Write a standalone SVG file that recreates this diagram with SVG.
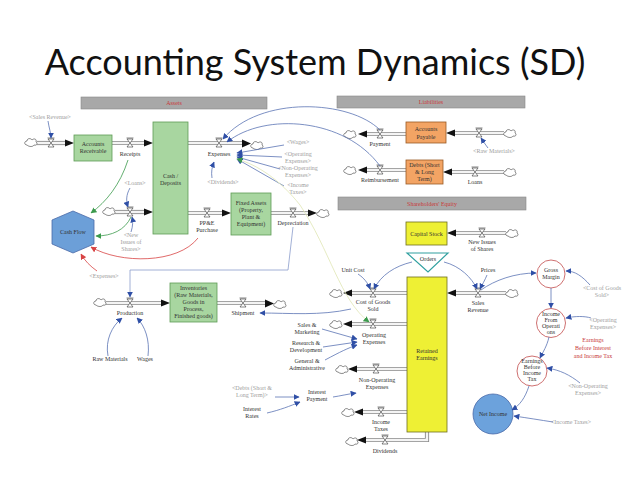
<svg xmlns="http://www.w3.org/2000/svg" width="638" height="479" viewBox="0 0 638 479">
<style>
.t{font-family:"Liberation Serif",serif;font-size:6px;fill:#333;text-anchor:middle}
.s{font-family:"Liberation Serif",serif;font-size:6px;fill:#a0a0a0;text-anchor:middle}
.h{font-family:"Liberation Serif",serif;font-size:6px;fill:#c83a3a;text-anchor:middle}
.bar{fill:#a8a8a8;stroke:#888;stroke-width:.6}
.gb{fill:#a8d6a0;stroke:#5e9c55;stroke-width:.8}
.ob{fill:#f3a464;stroke:#9a5a24;stroke-width:.8}
.yb{fill:#eef034;stroke:#6e6e1e;stroke-width:.8}
.circ{fill:#fff;stroke:#c86060;stroke-width:.9}
.po{fill:none;stroke:#8a8a8a;stroke-width:4.2}
.pi{fill:none;stroke:#f4f4f4;stroke-width:2.4}
.ah{fill:#111}
.cb{fill:none;stroke:#5a74b4;stroke-width:.8;marker-end:url(#mb)}
.cg{fill:none;stroke:#3c9a4c;stroke-width:.8;marker-end:url(#mg)}
.cr{fill:none;stroke:#d84444;stroke-width:.8;marker-end:url(#mr)}
.cp{fill:none;stroke:#e3e9bc;stroke-width:.9;marker-end:url(#mg);marker-start:url(#mgs)}
.cl{fill:none;stroke:#8a9ccc;stroke-width:.8;marker-end:url(#mb)}
</style>
<defs>
<marker id="mb" viewBox="0 0 10 10" refX="9" refY="5" markerWidth="6" markerHeight="6" markerUnits="userSpaceOnUse" orient="auto"><path d="M0,0 L10,5 L0,10 Z" fill="#2f4fa6"/></marker>
<marker id="mg" viewBox="0 0 10 10" refX="9" refY="5" markerWidth="6" markerHeight="6" markerUnits="userSpaceOnUse" orient="auto"><path d="M0,0 L10,5 L0,10 Z" fill="#3c9a4c"/></marker>
<marker id="mgs" viewBox="0 0 10 10" refX="1" refY="5" markerWidth="6" markerHeight="6" markerUnits="userSpaceOnUse" orient="auto"><path d="M10,0 L0,5 L10,10 Z" fill="#3c9a4c"/></marker>
<marker id="mr" viewBox="0 0 10 10" refX="9" refY="5" markerWidth="6" markerHeight="6" markerUnits="userSpaceOnUse" orient="auto"><path d="M0,0 L10,5 L0,10 Z" fill="#d84444"/></marker>
<g id="cloud"><path d="M-4,3 C-7,3 -7,-1 -4,-1 C-4,-4 0,-4 1,-2 C3,-4 6,-3 5,0 C7,1 6,4 3,3 C2,5 -2,5 -4,3 Z" fill="#fff" stroke="#555" stroke-width=".7"/></g>
<g id="valve"><path d="M-3,-4 H3 L-3,4 H3 Z" fill="#fff" stroke="#333" stroke-width=".6"/><path d="M-3.5,-5 H3.5" stroke="#333" stroke-width=".6"/></g>
</defs>
<rect width="638" height="479" fill="#fff"/>
<text x="315" y="75" font-family="Lato, 'Open Sans', sans-serif" font-size="36" fill="#111" text-anchor="middle">Accounting System Dynamics (SD)</text>

<g id="headers">
<rect class="bar" x="81" y="97" width="186" height="12"/><text class="h" x="174" y="105">Assets</text>
<rect class="bar" x="337" y="96" width="188" height="12"/><text class="h" x="431" y="104">Liabilities</text>
<rect class="bar" x="338" y="197" width="188" height="13"/><text class="h" x="432" y="205.5">Shareholders' Equity</text>
</g>

<g id="flows">
<path class="po" d="M37,143 H66"/><path class="pi" d="M37,143 H66"/><polygon class="ah" points="65,139.5 74,143 65,146.5"/>
<path class="po" d="M112,143 H145"/><path class="pi" d="M112,143 H145"/><polygon class="ah" points="144,139.5 153,143 144,146.5"/>
<path class="po" d="M188,143 H243"/><path class="pi" d="M188,143 H243"/><polygon class="ah" points="242,139.5 251,143.5 242,147.5"/>
<path class="po" d="M115,212 H145"/><path class="pi" d="M115,212 H145"/><polygon class="ah" points="144,208.5 153,212 144,215.5"/>
<path class="po" d="M188,213 H223"/><path class="pi" d="M188,213 H223"/><polygon class="ah" points="222,209.5 231,213 222,216.5"/>
<path class="po" d="M271,213 H309"/><path class="pi" d="M271,213 H309"/><polygon class="ah" points="308,209.5 317,213 308,216.5"/>
<path class="po" d="M106,303 H162"/><path class="pi" d="M106,303 H162"/><polygon class="ah" points="161,299.5 170,303 161,306.5"/>
<path class="po" d="M217,303 H266"/><path class="pi" d="M217,303 H266"/><polygon class="ah" points="265,299.5 274,303.5 265,307.5"/>
<path class="po" d="M406,134 H366"/><path class="pi" d="M406,134 H366"/><polygon class="ah" points="367,130.5 358,134 367,137.5"/>
<path class="po" d="M504,133 H454"/><path class="pi" d="M504,133 H454"/><polygon class="ah" points="455,129.5 446,133 455,136.5"/>
<path class="po" d="M406,170 H366"/><path class="pi" d="M406,170 H366"/><polygon class="ah" points="367,166.5 358,170 367,173.5"/>
<path class="po" d="M504,172 H451"/><path class="pi" d="M504,172 H451"/><polygon class="ah" points="452,168.5 443,172 452,175.5"/>
<path class="po" d="M506,233 H455"/><path class="pi" d="M506,233 H455"/><polygon class="ah" points="456,229.5 447,233 456,236.5"/>
<path class="po" d="M506,293 H455"/><path class="pi" d="M506,293 H455"/><polygon class="ah" points="456,289.5 447,293 456,296.5"/>
<path class="po" d="M407,293 H351"/><path class="pi" d="M407,293 H351"/><polygon class="ah" points="352,289.5 343,293 352,296.5"/>
<path class="po" d="M407,324 H351"/><path class="pi" d="M407,324 H351"/><polygon class="ah" points="352,320.5 343,324 352,327.5"/>
<path class="po" d="M407,369 H356"/><path class="pi" d="M407,369 H356"/><polygon class="ah" points="357,365.5 348,369 357,372.5"/>
<path class="po" d="M407,412 H362"/><path class="pi" d="M407,412 H362"/><polygon class="ah" points="363,408.5 354,412 363,415.5"/>
<path class="po" d="M427,432 V440 H365"/><path class="pi" d="M427,432 V440 H365"/><polygon class="ah" points="366,436.5 357,440 366,443.5"/>
<use href="#cloud" x="31" y="142"/><use href="#cloud" x="257" y="145"/><use href="#cloud" x="109" y="211"/>
<use href="#cloud" x="323" y="213"/><use href="#cloud" x="100" y="302"/><use href="#cloud" x="280" y="304"/>
<use href="#cloud" x="350" y="134"/><use href="#cloud" x="510" y="133"/><use href="#cloud" x="350" y="170"/>
<use href="#cloud" x="510" y="172"/><use href="#cloud" x="512" y="233"/><use href="#cloud" x="512" y="293"/>
<use href="#cloud" x="336" y="293"/><use href="#cloud" x="336" y="324"/><use href="#cloud" x="342" y="369"/>
<use href="#cloud" x="348" y="412"/><use href="#cloud" x="352" y="441"/>
<use href="#valve" x="51" y="143"/><use href="#valve" x="130" y="143"/><use href="#valve" x="219" y="143"/>
<use href="#valve" x="130" y="212"/><use href="#valve" x="207" y="213"/><use href="#valve" x="293" y="213"/>
<use href="#valve" x="130" y="303"/><use href="#valve" x="243" y="303"/>
<use href="#valve" x="380" y="134"/><use href="#valve" x="479" y="133"/><use href="#valve" x="380" y="170"/><use href="#valve" x="475" y="172"/>
<use href="#valve" x="482" y="233"/><use href="#valve" x="478" y="293"/><use href="#valve" x="373" y="293"/>
<use href="#valve" x="373" y="324"/><use href="#valve" x="376" y="369"/><use href="#valve" x="381" y="412"/><use href="#valve" x="385" y="440"/>
<text class="t" x="130" y="156">Receipts</text>
<text class="t" x="219" y="156">Expenses</text>
<text class="t" x="207" y="225">PP&amp;E</text><text class="t" x="207" y="232">Purchase</text>
<text class="t" x="293" y="225">Depreciation</text>
<text class="t" x="130" y="315">Production</text>
<text class="t" x="243" y="315">Shipment</text>
<text class="t" x="380" y="146">Payment</text>
<text class="t" x="380" y="182">Reimbursement</text>
<text class="t" x="475" y="184">Loans</text>
<text class="t" x="482" y="244">New Issues</text><text class="t" x="482" y="251">of Shares</text>
<text class="t" x="478" y="305">Sales</text><text class="t" x="478" y="312">Revenue</text>
<text class="t" x="373" y="304">Cost of Goods</text><text class="t" x="373" y="311">Sold</text>
<text class="t" x="374" y="337">Operating</text><text class="t" x="374" y="344">Expenses</text>
<text class="t" x="377" y="382">Non-Operating</text><text class="t" x="377" y="389">Expenses</text>
<text class="t" x="381" y="424">Income</text><text class="t" x="381" y="431">Taxes</text>
<text class="t" x="385" y="453">Dividends</text>
</g>

<g id="accounts-receivable"><rect class="gb" x="74" y="135" width="38" height="26"/><text class="t" x="93" y="146">Accounts</text><text class="t" x="93" y="153">Receivable</text></g>
<g id="cash-deposits"><rect class="gb" x="153" y="122" width="35" height="112"/><text class="t" x="170.5" y="178">Cash /</text><text class="t" x="170.5" y="185">Deposits</text></g>
<g id="fixed-assets"><rect class="gb" x="231" y="193" width="40" height="42"/><text class="t" x="251" y="205">Fixed Assets</text><text class="t" x="251" y="212">(Property,</text><text class="t" x="251" y="219">Plant &amp;</text><text class="t" x="251" y="226">Equipment)</text></g>
<g id="inventories"><rect class="gb" x="170" y="283" width="47" height="39"/><text class="t" x="193.5" y="290">Inventories</text><text class="t" x="193.5" y="297">(Raw Materials,</text><text class="t" x="193.5" y="304">Goods in</text><text class="t" x="193.5" y="311">Process,</text><text class="t" x="193.5" y="318">Finished goods)</text></g>
<g id="accounts-payable"><rect class="ob" x="406" y="122" width="40" height="21"/><text class="t" x="426" y="131">Accounts</text><text class="t" x="426" y="138.5">Payable</text></g>
<g id="debts"><rect class="ob" x="406" y="160" width="37" height="24"/><text class="t" x="424.5" y="167">Debts (Short</text><text class="t" x="424.5" y="174">&amp; Long</text><text class="t" x="424.5" y="181">Term)</text></g>
<g id="capital-stock"><rect class="yb" x="406" y="222" width="41" height="23"/><text class="t" x="426.5" y="235.5">Capital Stock</text></g>
<g id="orders"><polygon points="407,253 448,253 428,272" fill="#fff" stroke="#30a0a0" stroke-width="1.2"/><text class="t" x="428" y="260.5">Orders</text></g>
<g id="retained-earnings"><rect class="yb" x="407" y="277" width="40" height="155"/><text class="t" x="427" y="353">Retained</text><text class="t" x="427" y="360">Earnings</text></g>
<g id="cash-flow"><polygon points="73,211 94,220 94,244 73,253 52,244 52,220" fill="#6c9fd8" stroke="#4a6aa8" stroke-width=".8"/><text class="t" x="73" y="234">Cash Flow</text></g>
<g id="gross-margin"><circle class="circ" cx="551" cy="274" r="14"/><text class="t" x="551" y="272">Gross</text><text class="t" x="551" y="279">Margin</text></g>
<g id="income-from-operations"><circle class="circ" cx="551" cy="323" r="14.5"/><text class="t" x="551" y="316">Income</text><text class="t" x="551" y="322">From</text><text class="t" x="551" y="328">Operati</text><text class="t" x="551" y="334">ons</text></g>
<g id="ebit"><circle class="circ" cx="532" cy="371" r="15"/><text class="t" x="532" y="363">Earnings</text><text class="t" x="532" y="369">Before</text><text class="t" x="532" y="375">Income</text><text class="t" x="532" y="381">Tax</text></g>
<g id="net-income"><circle cx="493" cy="414" r="20" fill="#6ca2dc" stroke="#4a6aa8" stroke-width=".8"/><text class="t" x="493" y="416">Net Income</text></g>

<g id="labels">
<text class="s" x="50" y="119">&lt;Sales Revenue&gt;</text>
<text class="s" x="135" y="185">&lt;Loans&gt;</text>
<text class="s" x="131" y="237">&lt;New</text><text class="s" x="131" y="244">Issues of</text><text class="s" x="131" y="251">Shares&gt;</text>
<text class="s" x="104" y="278">&lt;Expenses&gt;</text>
<text class="s" x="298" y="144">&lt;Wages&gt;</text>
<text class="s" x="298" y="156">&lt;Operating</text><text class="s" x="298" y="163">Expenses&gt;</text>
<text class="s" x="298" y="170">&lt;Non-Operating</text><text class="s" x="298" y="177">Expenses&gt;</text>
<text class="s" x="298" y="187">&lt;Income</text><text class="s" x="298" y="194">Taxes&gt;</text>
<text class="s" x="223" y="184">&lt;Dividends&gt;</text>
<text class="s" x="494" y="153">&lt;Raw Materials&gt;</text>
<text class="t" x="110" y="361">Raw Materials</text>
<text class="t" x="145" y="361">Wages</text>
<text class="t" x="353" y="272">Unit Cost</text>
<text class="t" x="488" y="272">Prices</text>
<text class="t" x="307" y="327">Sales &amp;</text><text class="t" x="307" y="334">Marketing</text>
<text class="t" x="306" y="345">Research &amp;</text><text class="t" x="306" y="352">Development</text>
<text class="t" x="307" y="363">General &amp;</text><text class="t" x="307" y="370">Administrative</text>
<text class="s" x="252" y="390">&lt;Debts (Short &amp;</text><text class="s" x="252" y="397">Long Term)&gt;</text>
<text class="t" x="252" y="411">Interest</text><text class="t" x="252" y="418">Rates</text>
<text class="t" x="317" y="394">Interest</text><text class="t" x="317" y="401">Payment</text>
<text class="s" x="602" y="290">&lt;Cost of Goods</text><text class="s" x="602" y="297">Sold&gt;</text>
<text class="s" x="603" y="322">&lt;Operating</text><text class="s" x="603" y="329">Expenses&gt;</text>
<text class="h" x="593" y="342">Earnings</text><text class="h" x="593" y="350">Before Interest</text><text class="h" x="593" y="358">and Income Tax</text>
<text class="s" x="588" y="388">&lt;Non-Operating</text><text class="s" x="588" y="395">Expenses&gt;</text>
<text class="s" x="571" y="424">&lt;Income Taxes&gt;</text>
</g>

<g id="connectors">
<path class="cb" d="M48,121 C49,128 51,133 51,138"/>
<path class="cb" d="M488,148 C485,144 483,141 481,138"/>
<path class="cb" d="M380,130 C350,100 260,95 223,139"/>
<path class="cb" d="M380,166 C345,118 265,112 227,142"/>
<path class="cb" d="M284,145 L237,153"/>
<path class="cb" d="M282,157 L237,155"/>
<path class="cb" d="M280,169 L237,157"/>
<path class="cb" d="M284,186 L237,159"/>
<path class="cb" d="M212,178 C211,172 212,167 214,162"/>
<path class="cb" d="M130,188 C126,195 126,201 128,207"/>
<path class="cb" d="M131,232 C133,226 133,221 132,217"/>
<path class="cg" d="M128,160 C120,185 106,202 91,213"/>
<path class="cg" d="M131,217 C125,230 112,236 96,236"/>
<path class="cr" d="M198,238 C178,264 120,264 91,247"/>
<path class="cr" d="M97,271 C90,266 85,261 81,254"/>
<path class="cp" d="M369,322 C340,300 330,250 300,205 C280,180 258,165 237,159"/>
<path class="cl" d="M293,227 L288,270 L130,270 L130,297"/>
<path class="cb" d="M108,356 C105,340 112,326 122,318"/>
<path class="cb" d="M148,356 C150,340 145,326 137,318"/>
<path class="cb" d="M351,309 C320,316 290,313 260,313"/>
<path class="cb" d="M358,274 C364,278 368,283 370,289"/>
<path class="cb" d="M412,262 C395,266 381,275 374,289"/>
<path class="cb" d="M444,262 C460,266 472,278 477,289"/>
<path class="cb" d="M487,275 C485,280 482,285 480,289"/>
<path class="cb" d="M481,290 C495,280 515,273 536,273"/>
<path class="cb" d="M590,285 C582,276 575,271 566,271"/>
<path class="cb" d="M551,288 L551,308"/>
<path class="cb" d="M591,318 C585,316 575,316 566,318"/>
<path class="cb" d="M549,337 C547,346 543,352 540,358"/>
<path class="cb" d="M580,383 C570,375 560,370 547,368"/>
<path class="cb" d="M529,386 C525,398 520,405 512,410"/>
<path class="cb" d="M553,422 C540,420 528,418 514,416"/>
<path class="cb" d="M322,329 L357,339"/>
<path class="cb" d="M323,347 L357,342"/>
<path class="cb" d="M325,360 C340,352 348,348 357,345"/>
<path class="cb" d="M275,397 L299,397"/>
<path class="cb" d="M267,413 C280,410 290,406 300,402"/>
<path class="cb" d="M333,397 C340,396 348,394 356,393"/>
</g>
</svg>
